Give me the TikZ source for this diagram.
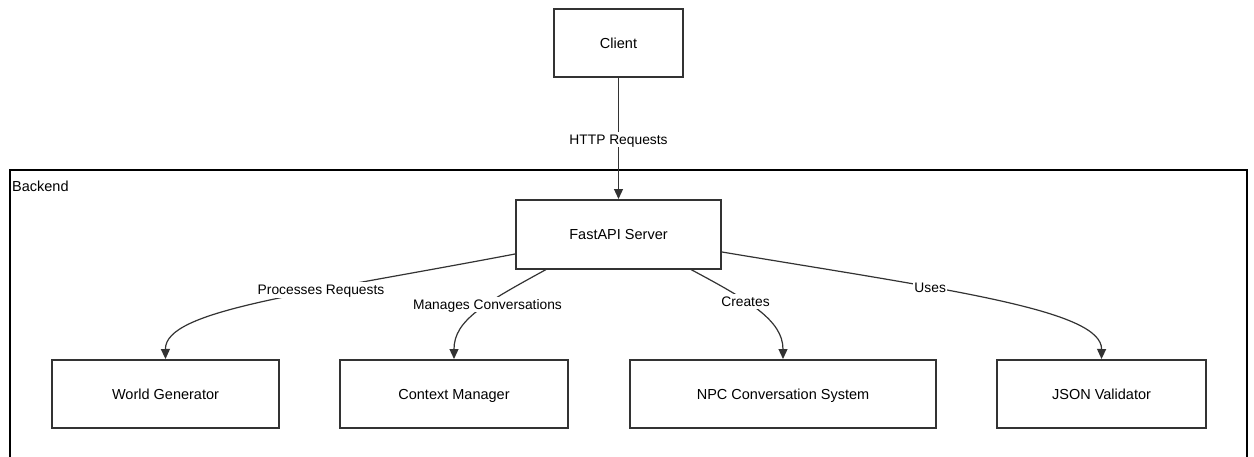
\documentclass[tikz,border=0pt]{standalone}
\usepackage{fontspec}
\setmainfont{Liberation Sans}
\usetikzlibrary{arrows.meta}
\definecolor{stroke}{HTML}{333333}
\begin{document}
\begin{tikzpicture}[x=1pt,y=-1pt,
  box/.style={draw=stroke,line width=2pt,fill=white,inner sep=0pt,text height=11.5pt,text depth=1pt,font=\fontsize{14.5}{17}\selectfont},
  edge/.style={draw=stroke,line width=1.2pt,-{Triangle[length=10pt,width=9pt]}},
  lbl/.style={fill=white,inner sep=1.5pt,text height=11pt,text depth=1.2pt,font=\fontsize{13.8}{16}\selectfont,text=black}]
\useasboundingbox (0,0) rectangle (1254,456);
\fill[white] (0,0) rectangle (1254,456);
\begin{scope}
\clip (0,0) rectangle (1254,456);
\draw[stroke,line width=2pt] (10,170) rectangle (1247,480);
\end{scope}
\node[anchor=north west,inner sep=0pt,font=\fontsize{14.5}{17}\selectfont] (backend) at (12,181) {Backend};
\node[box,minimum width=129pt,minimum height=68pt] (client) at (618.5,43) {Client};
\node[box,minimum width=205pt,minimum height=69pt] (api) at (618.5,234.5) {FastAPI Server};
\node[box,minimum width=227pt,minimum height=68pt] (world) at (165.5,394) {World Generator};
\node[box,minimum width=228pt,minimum height=68pt] (ctx) at (454,394) {Context Manager};
\node[box,minimum width=306pt,minimum height=68pt] (npc) at (783,394) {NPC Conversation System};
\node[box,minimum width=209pt,minimum height=68pt] (json) at (1101.5,394) {JSON Validator};
\coordinate (apiL) at (515,254);
\coordinate (apiBL) at (547,269);
\coordinate (apiBR) at (690,269);
\coordinate (apiR) at (722,252);
\draw[edge] (client.south) -- node[lbl,pos=0.51] {HTTP Requests} (api.north);
\draw[edge] (apiL) .. controls (300,295) and (165,310) .. (world.north) node[lbl,pos=0.35] {Processes Requests};
\draw[edge] (apiBL) .. controls (485,303) and (454,320) .. (ctx.north) node[lbl,pos=0.4] {Manages Conversations};
\draw[edge] (apiBR) .. controls (748,300) and (783,320) .. (npc.north) node[lbl,pos=0.38] {Creates};
\draw[edge] (apiR) .. controls (950,290) and (1102,310) .. (json.north) node[lbl,pos=0.35] {Uses};
\end{tikzpicture}
\end{document}
